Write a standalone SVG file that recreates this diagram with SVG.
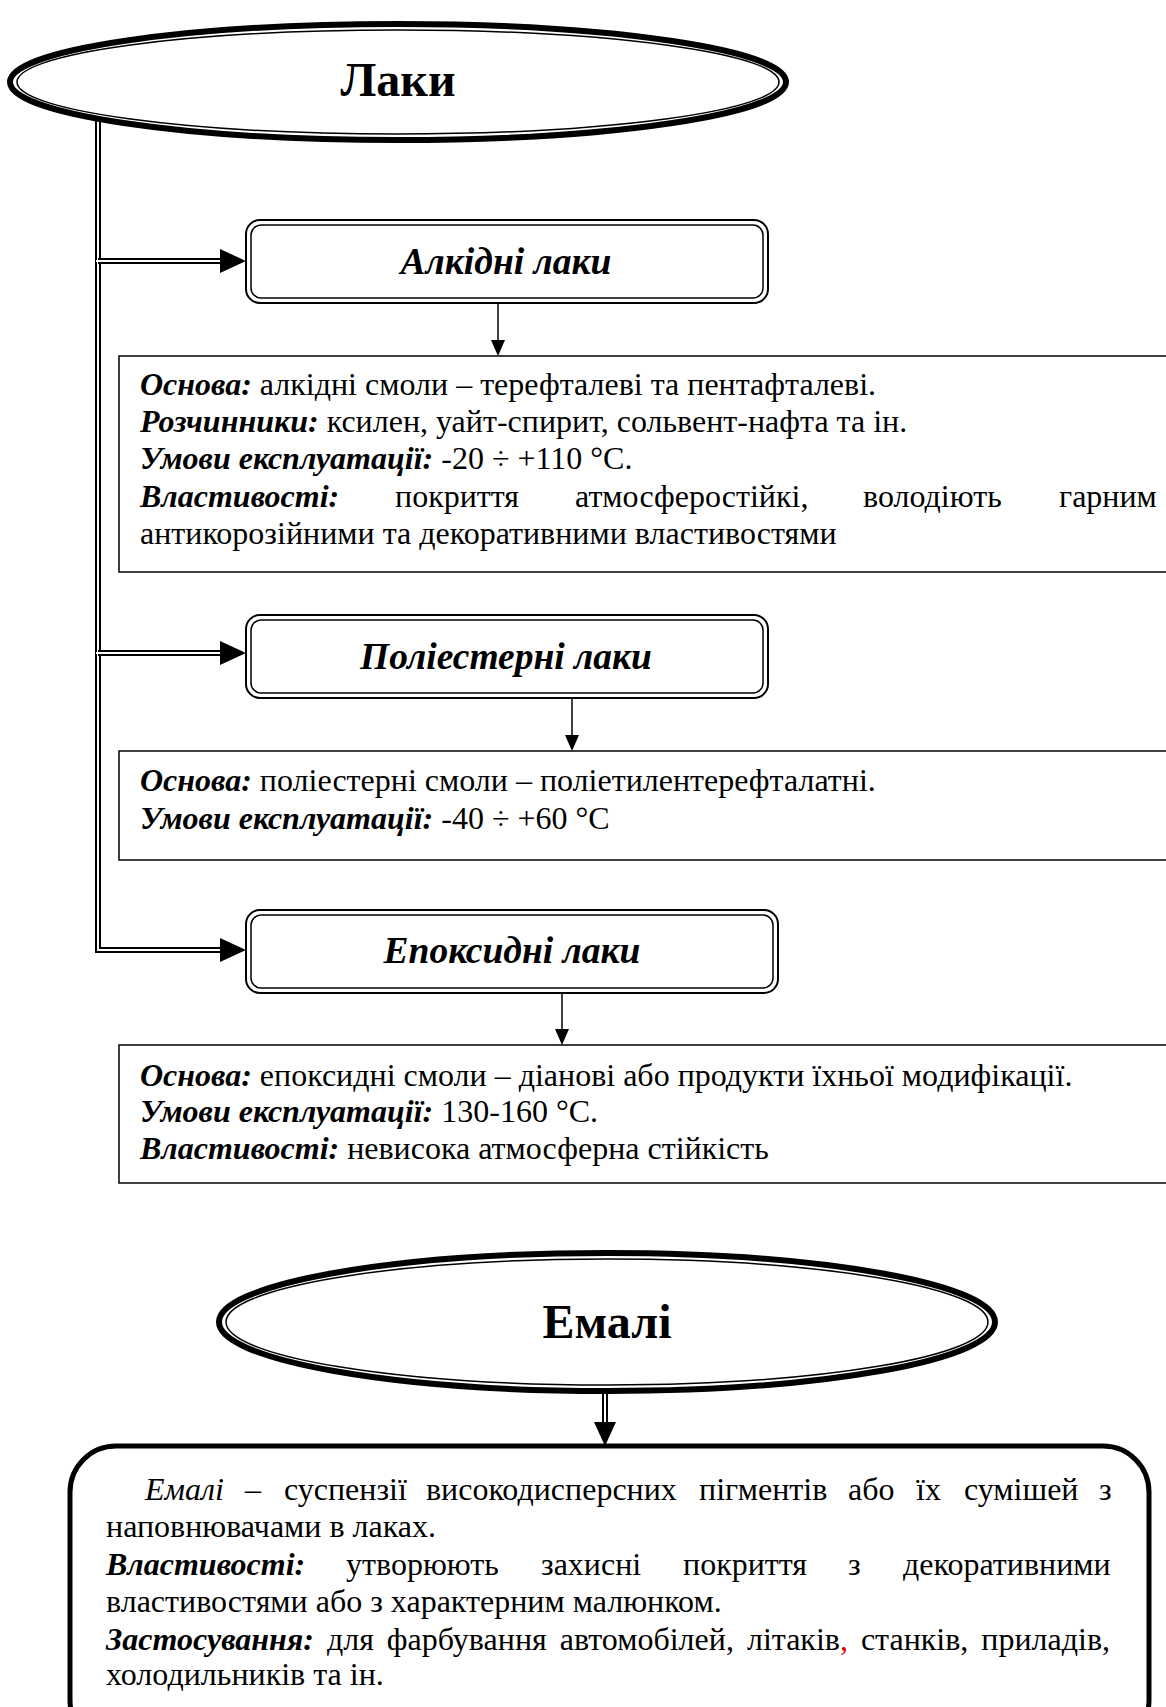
<svg xmlns="http://www.w3.org/2000/svg" width="1166" height="1707" viewBox="0 0 1166 1707">
  <style>
    .txt{font-family:"Liberation Serif","Times New Roman",serif;font-size:32px;fill:#000}
    .bi{font-weight:bold;font-style:italic}
    .it{font-style:italic}
    .head{font-family:"Liberation Serif","Times New Roman",serif;font-weight:bold;font-style:italic;font-size:37.5px;text-anchor:middle;fill:#000}
    .title{font-family:"Liberation Serif","Times New Roman",serif;font-weight:bold;font-size:48px;text-anchor:middle;fill:#000}
    .info{fill:#fff;stroke:#000;stroke-width:1.5}
    .dblOut{fill:none;stroke:#000;stroke-width:6}
    .dblIn{fill:none;stroke:#fff;stroke-width:2}
    .thin{fill:none;stroke:#000;stroke-width:1.5}
    .head-fill{fill:#000}
    .rOut{fill:#fff;stroke:#000;stroke-width:2}
    .rIn{fill:none;stroke:#000;stroke-width:1.5}
    .ellOut{fill:#fff;stroke:#000;stroke-width:6}
    .ellIn{fill:none;stroke:#000;stroke-width:1.5}
  </style>

  <!-- connectors -->
  <g id="connectors">
    <!-- trunk from "Лаки" with branches -->
    <path class="dblOut" d="M98,118 L98,950 L222,950"/>
    <path class="dblIn" d="M98,118 L98,950 L222,950"/>
    <path class="dblOut" d="M98,261 L222,261"/>
    <path class="dblIn" d="M96,261 L222,261"/>
    <path class="dblOut" d="M98,653 L222,653"/>
    <path class="dblIn" d="M96,653 L222,653"/>
    <path class="head-fill" d="M220,249 L246,261 L220,273 Z"/>
    <path class="head-fill" d="M220,641 L246,653 L220,665 Z"/>
    <path class="head-fill" d="M220,938 L246,950 L220,962 Z"/>
    <!-- thin arrows to the info boxes -->
    <path class="thin" d="M498,303 L498,342"/>
    <path class="head-fill" d="M491,340 L498,356 L505,340 Z"/>
    <path class="thin" d="M572,698 L572,737"/>
    <path class="head-fill" d="M565,735 L572,751 L579,735 Z"/>
    <path class="thin" d="M562,993 L562,1031"/>
    <path class="head-fill" d="M555,1029 L562,1045 L569,1029 Z"/>
    <!-- double arrow from "Емалі" -->
    <path class="dblOut" d="M605,1392 L605,1426"/>
    <path class="dblIn" d="M605,1392 L605,1426"/>
    <path class="head-fill" d="M594,1422 L605,1446 L616,1422 Z"/>
  </g>

  <!-- Лаки -->
  <g id="node-laky">
    <ellipse class="ellOut" cx="398" cy="82" rx="388" ry="58"/>
    <ellipse class="ellIn" cx="398" cy="82" rx="381" ry="52"/>
    <text class="title" x="398" y="96">Лаки</text>
  </g>

  <!-- Алкідні лаки -->
  <g id="node-alkidni">
    <rect class="rOut" x="246" y="220" width="522" height="83" rx="14"/>
    <rect class="rIn" x="251" y="225" width="512" height="73" rx="10"/>
    <text class="head" x="506" y="274">Алкідні лаки</text>
  </g>
  <g id="info-alkidni">
    <rect class="info" x="119" y="356" width="1080" height="216"/>
    <text class="txt" x="140" y="395"><tspan class="bi">Основа:</tspan> алкідні смоли – терефталеві та пентафталеві.</text>
    <text class="txt" x="140" y="432"><tspan class="bi">Розчинники:</tspan> ксилен, уайт-спирит, сольвент-нафта та ін.</text>
    <text class="txt" x="140" y="469"><tspan class="bi">Умови експлуатації:</tspan> -20 ÷ +110 °C.</text>
    <text class="txt" y="507"><tspan class="bi" x="140">Властивості:</tspan><tspan x="395">покриття</tspan><tspan x="575">атмосферостійкі,</tspan><tspan x="863">володіють</tspan><tspan x="1059">гарним</tspan></text>
    <text class="txt" x="140" y="544">антикорозійними та декоративними властивостями</text>
  </g>

  <!-- Поліестерні лаки -->
  <g id="node-poliesterni">
    <rect class="rOut" x="246" y="615" width="522" height="83" rx="14"/>
    <rect class="rIn" x="251" y="620" width="512" height="73" rx="10"/>
    <text class="head" x="506" y="669">Поліестерні лаки</text>
  </g>
  <g id="info-poliesterni">
    <rect class="info" x="119" y="751" width="1080" height="109"/>
    <text class="txt" x="140" y="791"><tspan class="bi">Основа:</tspan> поліестерні смоли – поліетилентерефталатні.</text>
    <text class="txt" x="140" y="829"><tspan class="bi">Умови експлуатації:</tspan> -40 ÷ +60 °C</text>
  </g>

  <!-- Епоксидні лаки -->
  <g id="node-epoksydni">
    <rect class="rOut" x="246" y="910" width="532" height="83" rx="14"/>
    <rect class="rIn" x="251" y="915" width="522" height="73" rx="10"/>
    <text class="head" x="512" y="963">Епоксидні лаки</text>
  </g>
  <g id="info-epoksydni">
    <rect class="info" x="119" y="1045" width="1080" height="138"/>
    <text class="txt" x="140" y="1086"><tspan class="bi">Основа:</tspan> епоксидні смоли – діанові або продукти їхньої модифікації.</text>
    <text class="txt" x="140" y="1122"><tspan class="bi">Умови експлуатації:</tspan> 130-160 °C.</text>
    <text class="txt" x="140" y="1159"><tspan class="bi">Властивості:</tspan> невисока атмосферна стійкість</text>
  </g>

  <!-- Емалі -->
  <g id="node-emali">
    <ellipse class="ellOut" cx="607" cy="1322" rx="388" ry="69"/>
    <ellipse class="ellIn" cx="607" cy="1322" rx="381" ry="63"/>
    <text class="title" x="607" y="1338">Емалі</text>
  </g>
  <g id="info-emali">
    <rect x="70" y="1446" width="1079" height="300" rx="46" fill="#fff" stroke="#000" stroke-width="5"/>
    <text class="txt" y="1500"><tspan class="it" x="145">Емалі</tspan><tspan x="245">–</tspan><tspan x="284">суспензії</tspan><tspan x="426">високодисперсних</tspan><tspan x="699">пігментів</tspan><tspan x="848">або</tspan><tspan x="916">їх</tspan><tspan x="964">сумішей</tspan><tspan x="1099">з</tspan></text>
    <text class="txt" x="106" y="1537">наповнювачами в лаках.</text>
    <text class="txt" y="1575"><tspan class="bi" x="106">Властивості:</tspan><tspan x="346">утворюють</tspan><tspan x="541">захисні</tspan><tspan x="683">покриття</tspan><tspan x="848">з</tspan><tspan x="903">декоративними</tspan></text>
    <text class="txt" x="106" y="1612">властивостями або з характерним малюнком.</text>
    <text class="txt" x="106" y="1650" word-spacing="5"><tspan class="bi">Застосування:</tspan> для фарбування автомобілей, літаків<tspan fill="#e00000">,</tspan> станків, приладів,</text>
    <text class="txt" x="106" y="1685">холодильників та ін.</text>
  </g>
</svg>
